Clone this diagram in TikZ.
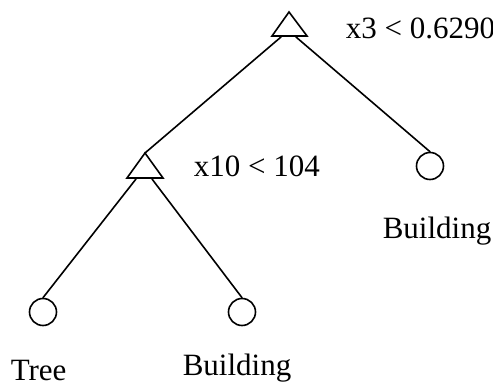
\documentclass[tikz,border=0pt]{standalone}
\usepackage{fontspec}
\setmainfont{Liberation Serif}
\begin{document}
\begin{tikzpicture}[x=1pt,y=-1pt,line width=1.6pt,
  leaf/.style={circle,draw,minimum size=27pt,inner sep=0pt},
  lbl/.style={anchor=base west,inner sep=0pt,font=\fontsize{31}{36}\selectfont},
  edge/.style={line cap=round}]
\useasboundingbox (0,0) rectangle (493,383);
\begin{scope}
\clip (0,0) rectangle (493,383);
% top split triangle
\coordinate (t1apex) at (289,12);
\coordinate (t1bl) at (272,36);
\coordinate (t1br) at (307,36);
\coordinate (t1l) at (281,37);
\coordinate (t1r) at (296,37);
\draw[line join=miter] (t1apex) -- (t1bl) -- (t1br) -- cycle;
% second split triangle
\coordinate (t2apex) at (145,153);
\coordinate (t2bl) at (127,178);
\coordinate (t2br) at (163,178);
\coordinate (t2l) at (136,179);
\coordinate (t2r) at (152,179);
\draw[line join=miter] (t2apex) -- (t2bl) -- (t2br) -- cycle;
% leaves
\node[leaf] (c3) at (430,166) {};
\node[leaf] (c1) at (43,312) {};
\node[leaf] (c2) at (242,312) {};
% edges
\draw[edge] (t1l) -- (t2apex);
\draw[edge] (t1r) -- (c3.north);
\draw[edge] (t2l) -- (c1.north);
\draw[edge] (t2r) -- (c2.north);
% labels
\node[lbl] (s1) at (345,38) {x3 < 0.6290};
\node[lbl] (s2) at (193,176.5) {x10 < 104};
\node[lbl] (l3) at (382,238) {Building};
\node[lbl] (l1) at (10,380) {Tree};
\node[lbl] (l2) at (182,375) {Building};
\end{scope}
\end{tikzpicture}
\end{document}
